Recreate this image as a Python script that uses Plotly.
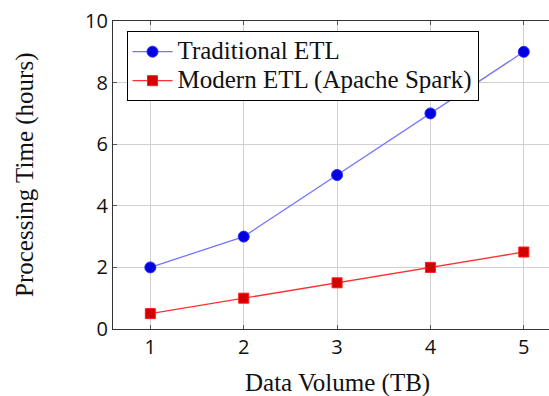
import plotly.graph_objects as go

data_volume = [1, 2, 3, 4, 5]
traditional_etl = [2, 3, 5, 7, 9]
modern_etl = [0.5, 1, 1.5, 2, 2.5]
series_names = ["Traditional ETL", "Modern ETL (Apache Spark)"]
x_title = "Data Volume (TB)"
y_title = "Processing Time (hours)"

W, H = 549, 396
L, R, T, B = 113, 0, 21, 67


def big(s):
    return '<span style="font-size:25px">' + s + '</span>'


fig = go.Figure()
fig.add_trace(go.Scatter(
    x=data_volume, y=traditional_etl, name=big(series_names[0]), mode="lines+markers",
    line=dict(color="#7373ff", width=1.3),
    marker=dict(symbol="circle", size=11, color="#0000e0", line=dict(color="#2a2aff", width=1)),
))
fig.add_trace(go.Scatter(
    x=data_volume, y=modern_etl, name=big(series_names[1]), mode="lines+markers",
    line=dict(color="#ff3030", width=1.3),
    marker=dict(symbol="square", size=10, color="#d40000", line=dict(color="#ff1a1a", width=1)),
))

serif = "Liberation Serif, Times New Roman, serif"
sans = "Open Sans, sans-serif"

fig.update_layout(
    width=W, height=H,
    margin=dict(l=L, r=R, t=T, b=B, pad=0),
    paper_bgcolor="white", plot_bgcolor="white",
    showlegend=True,
    legend=dict(
        x=0.031, y=0.967, xanchor="left", yanchor="top",
        bgcolor="white", bordercolor="black", borderwidth=1,
        font=dict(family=serif, size=20, color="#111"),
        itemwidth=40, tracegroupgap=0,
        entrywidth=355, entrywidthmode="pixels",
    ),
    xaxis=dict(
        range=[0.6, 5.27], tickvals=data_volume, ticktext=[str(v) for v in data_volume],
        showgrid=True, gridcolor="#d0d0d0", gridwidth=1,
        showline=True, linecolor="#333", linewidth=1.2, mirror="ticks",
        ticks="inside", ticklen=4, tickcolor="#555",
        tickfont=dict(family=sans, size=20, color="#111"),
        zeroline=False,
    ),
    yaxis=dict(
        range=[0, 10], tickvals=[0, 2, 4, 6, 8, 10],
        showgrid=True, gridcolor="#d0d0d0", gridwidth=1,
        showline=True, linecolor="#333", linewidth=1.2, mirror=False,
        ticks="inside", ticklen=4, tickcolor="#555",
        tickfont=dict(family=sans, size=20, color="#111"),
        zeroline=False,
    ),
    annotations=[
        dict(text=x_title, xref="paper", yref="paper", x=(337 - L) / (W - L - R),
             y=(H - B - 383) / (H - T - B), xanchor="center", yanchor="middle",
             showarrow=False, font=dict(family=serif, size=25, color="#111")),
        dict(text=y_title, xref="paper", yref="paper", x=(25 - L) / (W - L - R),
             y=0.5, xanchor="center", yanchor="middle", textangle=-90,
             showarrow=False, font=dict(family=serif, size=25, color="#111")),
    ],
)

fig.write_html("out.html")
